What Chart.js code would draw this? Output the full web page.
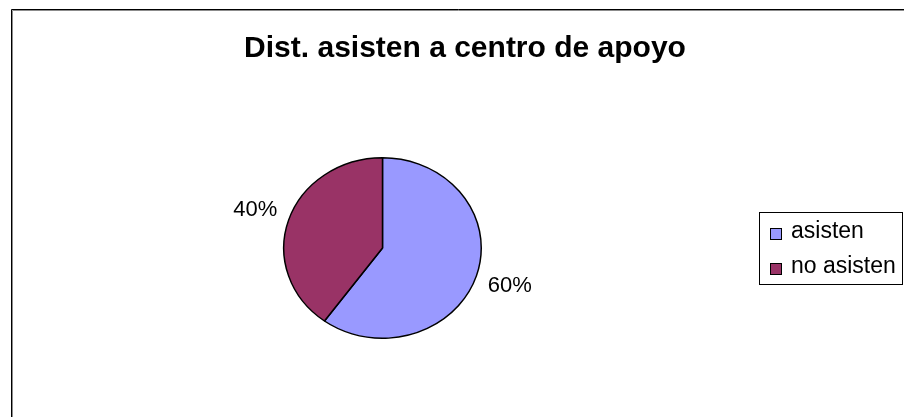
<!DOCTYPE html>
<html>
<head>
<meta charset="utf-8">
<script src="https://cdn.jsdelivr.net/npm/chart.js@4.4.1/dist/chart.umd.min.js"></script>
<style>
  html, body { margin: 0; padding: 0; background: #ffffff; }
  #c { display: block; }
</style>
</head>
<body>
<canvas id="c" width="904" height="417"></canvas>
<script>
// Chart content
const chartTitle = 'Dist. asisten a centro de apoyo';
const categories = ['asisten', 'no asisten'];
const shares = [60, 40];
const sliceColors = ['#9999FF', '#993366'];

const FONT = '"Liberation Sans", Arial, Helvetica, sans-serif';
const Y_SQUASH = 0.914;   // the pie is drawn slightly flattened (elliptical)

// White page with the chart frame (top and left edges)
const framePlugin = {
  id: 'frame',
  beforeDraw(chart) {
    const ctx = chart.ctx;
    ctx.save();
    ctx.fillStyle = '#ffffff';
    ctx.fillRect(0, 0, chart.width, chart.height);
    ctx.lineWidth = 1;
    ctx.strokeStyle = '#000000';
    ctx.beginPath();
    ctx.moveTo(11.5, chart.height + 2);
    ctx.lineTo(11.5, 9.5);
    ctx.lineTo(chart.width + 2, 9.5);
    ctx.stroke();
    ctx.strokeStyle = '#8c8c8c';
    ctx.beginPath();
    ctx.moveTo(12.5, chart.height + 2);
    ctx.lineTo(12.5, 10.5);
    ctx.lineTo(chart.width + 2, 10.5);
    ctx.stroke();
    ctx.restore();
  }
};

// Flatten the pie vertically around its centre
const squashPlugin = {
  id: 'squash',
  beforeDatasetsDraw(chart) {
    const arc = chart.getDatasetMeta(0).data[0];
    const ctx = chart.ctx;
    ctx.save();
    ctx.translate(0, arc.y);
    ctx.scale(1, Y_SQUASH);
    ctx.translate(0, -arc.y);
  },
  afterDatasetsDraw(chart) {
    chart.ctx.restore();
  }
};

// Title, percentage labels and the boxed legend
const textPlugin = {
  id: 'texts',
  afterDraw(chart) {
    const ctx = chart.ctx;
    ctx.save();

    // title
    ctx.fillStyle = '#000000';
    ctx.font = 'bold 30px ' + FONT;
    ctx.textAlign = 'center';
    ctx.textBaseline = 'alphabetic';
    ctx.fillText(chartTitle, 465, 57);

    // percentage labels outside each slice
    const values = chart.data.datasets[0].data;
    const total = values.reduce((a, b) => a + b, 0);
    const meta = chart.getDatasetMeta(0);
    ctx.font = '22px ' + FONT;
    ctx.textBaseline = 'middle';
    meta.data.forEach((arc, i) => {
      const mid = (arc.startAngle + arc.endAngle) / 2;
      const dist = arc.outerRadius + 35;
      const x = arc.x + Math.cos(mid) * dist;
      const y = arc.y + Math.sin(mid) * dist * Y_SQUASH;
      ctx.fillText(Math.round(values[i] / total * 100) + '%', x, y);
    });

    // legend
    ctx.lineWidth = 1;
    ctx.strokeStyle = '#000000';
    ctx.strokeRect(759.5, 212.5, 143, 72);
    ctx.font = '23px ' + FONT;
    ctx.textAlign = 'left';
    ctx.textBaseline = 'alphabetic';
    chart.data.labels.forEach((label, i) => {
      const rowTop = 228 + i * 35;
      ctx.fillStyle = sliceColors[i];
      ctx.fillRect(770.5, rowTop + 0.5, 11, 11);
      ctx.strokeStyle = '#000000';
      ctx.strokeRect(770.5, rowTop + 0.5, 11, 11);
      ctx.fillStyle = '#000000';
      ctx.fillText(label, 791, rowTop + 10);
    });

    ctx.restore();
  }
};

new Chart(document.getElementById('c'), {
  type: 'pie',
  data: {
    labels: categories,
    datasets: [{
      data: shares,
      backgroundColor: sliceColors,
      borderColor: '#000000',
      borderWidth: 1.5
    }]
  },
  options: {
    responsive: false,
    animation: false,
    events: [],
    layout: {
      padding: { left: 283, right: 422, top: 100, bottom: 21 }
    },
    plugins: {
      legend: { display: false },
      title: { display: false },
      tooltip: { enabled: false }
    }
  },
  plugins: [framePlugin, squashPlugin, textPlugin]
});
</script>
</body>
</html>
